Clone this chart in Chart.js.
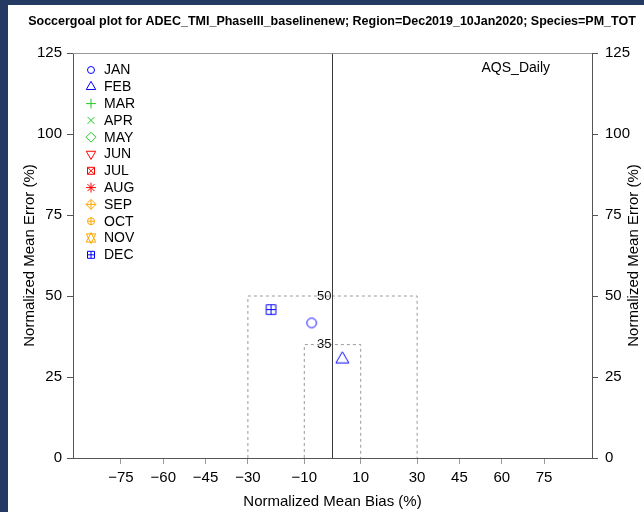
<!DOCTYPE html>
<html>
<head>
<meta charset="utf-8">
<script src="https://cdn.jsdelivr.net/npm/chart.js@4.4.0/dist/chart.umd.min.js"></script>
<style>
  html, body { margin: 0; padding: 0; background: #243a63; overflow: hidden; }
  #wrap { position: absolute; left: 8px; top: 5px; width: 636px; height: 507px; background: #fff; }
</style>
</head>
<body>
<div id="wrap"><canvas id="soccerChart"></canvas></div>
<script>
// monthly performance (one point per month that has data)
const months = ['JAN', 'FEB', 'MAR', 'APR', 'MAY', 'JUN', 'JUL', 'AUG', 'SEP', 'OCT', 'NOV', 'DEC'];
const monthColors = ['#0000ff', '#0000ff', '#22c822', '#22c822', '#22c822', '#ff0000',
                     '#ff0000', '#ff0000', '#ffa500', '#ffa500', '#ffa500', '#0000ff'];
const monthSymbols = ['circle', 'triUp', 'plus', 'cross', 'diamond', 'triDown',
                      'boxX', 'star', 'diamondPlus', 'circlePlus', 'hexagram', 'boxPlus'];
const meanBias  = [-7.4, 3.5, null, null, null, null, null, null, null, null, null, -21.8];
const meanError = [41.7, 30.5, null, null, null, null, null, null, null, null, null, 45.8];

const biasTicks = [-75, -60, -45, -30, -10, 10, 30, 45, 60, 75];
const errorTicks = [0, 25, 50, 75, 100, 125];

// goal / criteria boxes
const goalBias = [30, 10];
const goalError = [50, 35];

const network = 'AQS_Daily';
const titleText = 'Soccergoal plot for ADEC_TMI_PhaseIII_baselinenew; Region=Dec2019_10Jan2020; Species=PM_TOT';
const fontFamily = '"Liberation Sans", Arial, Helvetica, sans-serif';

Chart.defaults.font.family = fontFamily;
Chart.defaults.color = '#000';

// R-style plotting symbols
function drawSymbol(ctx, kind, x, y, s, color) {
  const r2 = s * Math.SQRT2;
  const tr = 1.555 * s, th = 1.347 * s, tb = 0.778 * s;
  const line = (x1, y1, x2, y2) => { ctx.moveTo(x + x1, y + y1); ctx.lineTo(x + x2, y + y2); };
  const poly = pts => {
    ctx.moveTo(x + pts[0][0], y + pts[0][1]);
    pts.slice(1).forEach(p => ctx.lineTo(x + p[0], y + p[1]));
    ctx.closePath();
  };
  const diamond = [[0, -r2], [r2, 0], [0, r2], [-r2, 0]];
  ctx.save();
  ctx.strokeStyle = color;
  ctx.lineWidth = 1;
  ctx.beginPath();
  switch (kind) {
    case 'circle': ctx.arc(x, y, s, 0, 2 * Math.PI); break;
    case 'triUp': poly([[0, -tr], [th, tb], [-th, tb]]); break;
    case 'plus': line(-r2, 0, r2, 0); line(0, -r2, 0, r2); break;
    case 'cross': line(-s, -s, s, s); line(-s, s, s, -s); break;
    case 'diamond': poly(diamond); break;
    case 'triDown': poly([[0, tr], [th, -tb], [-th, -tb]]); break;
    case 'boxX': ctx.rect(x - s, y - s, 2 * s, 2 * s); line(-s, -s, s, s); line(-s, s, s, -s); break;
    case 'star': line(-s, -s, s, s); line(-s, s, s, -s); line(-r2, 0, r2, 0); line(0, -r2, 0, r2); break;
    case 'diamondPlus': poly(diamond); line(-r2, 0, r2, 0); line(0, -r2, 0, r2); break;
    case 'circlePlus': ctx.arc(x, y, s, 0, 2 * Math.PI); line(-s, 0, s, 0); line(0, -s, 0, s); break;
    case 'hexagram': {
      const hy = 0.5 * (tb + tr);
      poly([[0, -tr], [th, hy], [-th, hy]]);
      poly([[0, tr], [th, -hy], [-th, -hy]]);
      break;
    }
    case 'boxPlus': ctx.rect(x - s, y - s, 2 * s, 2 * s); line(-s, 0, s, 0); line(0, -s, 0, s); break;
  }
  ctx.stroke();
  ctx.restore();
}

function symbolImage(kind, color, s) {
  const size = 2 * Math.ceil(1.6 * s) + 3;
  const c = document.createElement('canvas');
  c.width = size; c.height = size;
  drawSymbol(c.getContext('2d'), kind, size / 2, size / 2, s, color);
  return c;
}

function goalBox(b, e) {
  return [{x: -b, y: 0}, {x: -b, y: e}, {x: b, y: e}, {x: b, y: 0}];
}

const datasets = months.map((m, i) => ({
  label: m,
  data: meanBias[i] === null ? [] : [{x: meanBias[i], y: meanError[i]}],
  pointStyle: symbolImage(monthSymbols[i], monthColors[i], 4.8),
  order: 1
}));

goalBias.forEach((b, i) => {
  datasets.push({
    label: 'goal' + goalError[i],
    data: goalBox(b, goalError[i]),
    showLine: true,
    borderColor: '#9a9a9a',
    borderWidth: 1,
    borderDash: [3, 3],
    pointRadius: 0,
    order: 3
  });
});

datasets.push({
  label: 'zero',
  data: [{x: 0, y: 0}, {x: 0, y: 125}],
  showLine: true,
  borderColor: '#3a3a3a',
  borderWidth: 1,
  pointRadius: 0,
  order: 2
});

const extras = {
  id: 'extras',
  afterDatasetsDraw(chart) {
    const {ctx, chartArea: a, scales: {x, y}} = chart;
    ctx.save();
    // top edge of the box
    ctx.strokeStyle = '#999';
    ctx.lineWidth = 1;
    ctx.beginPath();
    ctx.moveTo(a.left, Math.round(a.top) + 0.5);
    ctx.lineTo(a.right, Math.round(a.top) + 0.5);
    ctx.stroke();

    // goal labels
    ctx.fillStyle = '#111';
    ctx.font = '13px ' + fontFamily;
    ctx.textAlign = 'right';
    ctx.textBaseline = 'middle';
    goalError.forEach(e => ctx.fillText(String(e), x.getPixelForValue(0) - 1, y.getPixelForValue(e)));

    // network label
    ctx.font = '14px ' + fontFamily;
    ctx.fillStyle = '#000';
    ctx.textAlign = 'right';
    ctx.fillText(network, a.right - 42, a.top + 15);

    // legend
    ctx.textAlign = 'left';
    months.forEach((m, i) => {
      const ly = a.top + 17 + i * 16.8;
      drawSymbol(ctx, monthSymbols[i], a.left + 18, ly, 3.5, monthColors[i]);
      ctx.fillStyle = '#000';
      ctx.fillText(m, a.left + 31, ly + 0.5);
    });

    // right axis title, reading upward like the left one
    ctx.font = '15px ' + fontFamily;
    ctx.textAlign = 'center';
    ctx.translate(chart.width - 10, (a.top + a.bottom) / 2);
    ctx.rotate(-Math.PI / 2);
    ctx.fillText('Normalized Mean Error (%)', 0, 0);
    ctx.restore();
  }
};

const minusLabel = v => (v < 0 ? '\u2212' + Math.abs(v) : String(v));

new Chart(document.getElementById('soccerChart'), {
  type: 'scatter',
  data: { datasets },
  options: {
    responsive: true,
    maintainAspectRatio: false,
    animation: false,
    events: [],
    layout: { padding: { left: 12, right: 0, top: 0, bottom: 0 } },
    plugins: {
      legend: { display: false },
      tooltip: { enabled: false },
      title: {
        display: true,
        text: titleText,
        color: '#000',
        font: { size: 12.5, weight: 'bold' },
        padding: { top: 9, bottom: 24 }
      }
    },
    scales: {
      x: {
        type: 'linear',
        min: -92,
        max: 92,
        afterBuildTicks: s => { s.ticks = biasTicks.map(v => ({value: v})); },
        afterFit: s => { s.height = 54; },
        ticks: { font: { size: 15 }, color: '#000', padding: 5, callback: minusLabel },
        grid: { drawOnChartArea: false, tickLength: 6, tickColor: '#999' },
        border: { color: '#555' },
        title: { display: true, text: 'Normalized Mean Bias (%)', font: { size: 15 }, color: '#000', padding: { top: 0, bottom: 1 } }
      },
      y: {
        type: 'linear',
        position: 'left',
        min: 0,
        max: 125,
        afterBuildTicks: s => { s.ticks = errorTicks.map(v => ({value: v})); },
        afterFit: s => { s.width = 53; },
        ticks: { font: { size: 15 }, color: '#000', padding: 5 },
        grid: { drawOnChartArea: false, tickLength: 6, tickColor: '#555' },
        border: { color: '#555' },
        title: { display: true, text: 'Normalized Mean Error (%)', font: { size: 15 }, color: '#000', padding: { top: 1, bottom: 0 } }
      },
      y2: {
        type: 'linear',
        position: 'right',
        min: 0,
        max: 125,
        afterBuildTicks: s => { s.ticks = errorTicks.map(v => ({value: v})); },
        afterFit: s => { s.width = 52; },
        ticks: { font: { size: 15 }, color: '#000', padding: 7 },
        grid: { drawOnChartArea: false, tickLength: 6, tickColor: '#555' },
        border: { color: '#555' }
      }
    }
  },
  plugins: [extras]
});
</script>
</body>
</html>
